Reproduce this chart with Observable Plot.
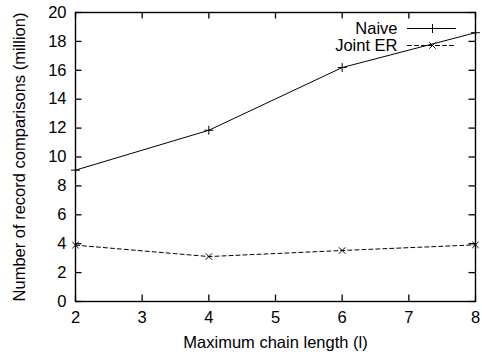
<!DOCTYPE html>
<html><head><meta charset="utf-8">
<script src="https://cdn.jsdelivr.net/npm/d3@7"></script>
<script src="https://cdn.jsdelivr.net/npm/@observablehq/plot@0.6"></script>
<style>body{margin:0;background:#fff}</style>
</head><body><div id="chart"></div>
<script>
const chainLength = [2, 4, 6, 8];
const naive = [9.09, 11.85, 16.19, 18.6];
const jointER = [3.9, 3.11, 3.53, 3.92];
const seriesNames = ["Naive", "Joint ER"];
const xTicks = [2, 3, 4, 5, 6, 7, 8];
const yTicks = [0, 2, 4, 6, 8, 10, 12, 14, 16, 18, 20];

const naiveData = chainLength.map((x, i) => ({x, y: naive[i]}));
const jointData = chainLength.map((x, i) => ({x, y: jointER[i]}));
const seg = {draw(ctx, l) { ctx.moveTo(0, 0); ctx.lineTo(0, -l); }};
const font = "Liberation Sans, Arial, Helvetica, sans-serif";
const FS = 16.5;
const TL = 6.5;
const W = 482, H = 356, ML = 75, MR = 7, MT = 12, MB = 55;
const FW = W - ML - MR, FH = H - MT - MB;
const tk = {stroke: "#000", strokeWidth: 1.3};

const plot = Plot.plot({
  width: W, height: H,
  marginLeft: ML, marginRight: MR, marginTop: MT, marginBottom: MB,
  style: {fontFamily: font, fontSize: FS + "px", color: "#000", background: "#fff"},
  x: {domain: [2, 8]},
  y: {domain: [0, 20]},
  marks: [
    Plot.axisX({ticks: xTicks, tickFormat: d3.format("d"), tickSize: 0, tickPadding: 10, label: "Maximum chain length (l)", labelAnchor: "center", labelOffset: 46, labelArrow: "none", fontSize: FS}),
    Plot.axisY({ticks: yTicks, tickFormat: d3.format("d"), tickSize: 0, tickPadding: 9, label: "Number of record comparisons (million)", labelAnchor: "center", labelOffset: 62, labelArrow: "none", fontSize: FS}),
    Plot.ruleX(xTicks, {x: d => d, insetTop: FH - TL, ...tk}),
    Plot.ruleX(xTicks, {x: d => d, insetBottom: FH - TL, ...tk}),
    Plot.ruleY(yTicks, {y: d => d, insetRight: FW - TL, ...tk}),
    Plot.ruleY(yTicks, {y: d => d, insetLeft: FW - TL, ...tk}),
    Plot.frame({stroke: "#000", strokeWidth: 1.4}),
    Plot.line(naiveData, {x: "x", y: "y", stroke: "#000", strokeWidth: 1}),
    Plot.dot(naiveData, {x: "x", y: "y", symbol: "plus", r: 3, stroke: "#000", strokeWidth: 1}),
    Plot.line(jointData, {x: "x", y: "y", stroke: "#000", strokeWidth: 1, strokeDasharray: "4,3"}),
    Plot.dot(jointData, {x: "x", y: "y", symbol: "times", r: 3, stroke: "#000", strokeWidth: 1}),
    Plot.text([seriesNames[0]], {text: d => d, frameAnchor: "top-right", dx: -78, dy: 16, textAnchor: "end", lineAnchor: "middle", fontSize: FS}),
    Plot.text([seriesNames[1]], {text: d => d, frameAnchor: "top-right", dx: -78, dy: 33, textAnchor: "end", lineAnchor: "middle", fontSize: FS}),
    Plot.vector([0], {frameAnchor: "top-right", dx: -68, dy: 16, rotate: 90, length: 48, anchor: "start", shape: seg, stroke: "#000", strokeWidth: 1}),
    Plot.vector([0], {frameAnchor: "top-right", dx: -68, dy: 33, rotate: 90, length: 48, anchor: "start", shape: seg, stroke: "#000", strokeWidth: 1, strokeDasharray: "4,3"}),
    Plot.dot([0], {frameAnchor: "top-right", dx: -43, dy: 16, symbol: "plus", r: 3, stroke: "#000", strokeWidth: 1}),
    Plot.dot([0], {frameAnchor: "top-right", dx: -43, dy: 33, symbol: "times", r: 3, stroke: "#000", strokeWidth: 1})
  ]
});
document.getElementById("chart").append(plot);
</script>
</body></html>
